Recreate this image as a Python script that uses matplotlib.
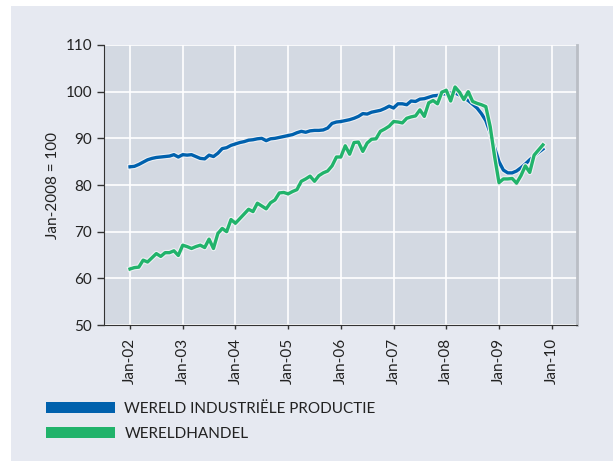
import numpy as np
import matplotlib
matplotlib.use("Agg")
import matplotlib.pyplot as plt
import matplotlib.patheffects as pe
from matplotlib.patches import Rectangle, Patch

plt.rcParams['font.family'] = ['Lato', 'DejaVu Sans']

# maandcijfers, jan-2002 t/m nov-2009 (jan-2008 = 100)
industrie = [
    83.9, 84.0, 84.4, 84.9, 85.4, 85.7, 85.9, 86.0, 86.1, 86.2, 86.5, 86.0,
    86.5, 86.4, 86.5, 86.1, 85.7, 85.6, 86.4, 86.1, 86.8, 87.8, 88.0, 88.5,
    88.8, 89.1, 89.3, 89.6, 89.7, 89.9, 90.0, 89.5, 89.9, 90.0, 90.2, 90.4,
    90.6, 90.8, 91.2, 91.5, 91.3, 91.6, 91.7, 91.7, 91.8, 92.2, 93.2, 93.5,
    93.6, 93.8, 94.0, 94.3, 94.7, 95.3, 95.2, 95.6, 95.8, 96.0, 96.4, 96.9,
    96.5, 97.4, 97.4, 97.2, 98.0, 97.9, 98.4, 98.5, 98.8, 99.1, 99.2, 99.4,
    99.6, 99.7, 99.7, 99.3, 98.7, 98.1, 97.3, 96.5, 95.3, 93.8, 91.2, 88.0,
    85.0, 83.2, 82.6, 82.6, 83.0, 83.7, 84.5, 85.4, 86.2, 87.0, 87.7,
]
handel = [
    62.0, 62.3, 62.4, 63.9, 63.5, 64.4, 65.3, 64.7, 65.5, 65.5, 65.9, 64.9,
    67.1, 66.8, 66.4, 66.8, 67.1, 66.6, 68.4, 66.4, 69.6, 70.7, 70.0, 72.6,
    71.8, 72.8, 73.8, 74.8, 74.3, 76.1, 75.5, 74.9, 76.2, 76.8, 78.3, 78.4,
    78.1, 78.6, 79.0, 80.8, 81.3, 81.9, 80.8, 82.0, 82.6, 83.0, 84.1, 86.0,
    86.0, 88.4, 86.6, 89.1, 89.2, 87.2, 89.0, 89.8, 89.9, 91.5, 92.0, 92.6,
    93.6, 93.5, 93.3, 94.3, 94.6, 94.8, 96.1, 94.7, 97.6, 98.1, 97.4, 99.9,
    100.3, 98.0, 101.0, 99.9, 98.3, 100.0, 97.9, 97.5, 97.2, 96.8, 92.5, 86.1,
    80.5, 81.3, 81.3, 81.4, 80.4, 82.0, 84.1, 82.7, 86.4, 87.5, 88.6,
]
jaren = [2002, 2003, 2004, 2005, 2006, 2007, 2008, 2009, 2010]
jaar_labels = ['Jan-02', 'Jan-03', 'Jan-04', 'Jan-05', 'Jan-06',
               'Jan-07', 'Jan-08', 'Jan-09', 'Jan-10']
namen = ['WERELD INDUSTRIËLE PRODUCTIE', 'WERELDHANDEL']
kleuren = ['#0061ad', '#21b36b']

t = 2002 + np.arange(len(industrie)) / 12

fig = plt.figure(figsize=(6.13, 4.61), dpi=100)
fig.patch.set_facecolor('white')
fig.add_artist(Rectangle((11 / 613, 0), 1, 1 - 6 / 461, transform=fig.transFigure,
                         facecolor='#e6e9f1', edgecolor='none', zorder=-10))

ax = fig.add_axes([104 / 613, 1 - 325 / 461, 473 / 613, 280 / 461])
ax.set_facecolor('#d3d9e2')

halo = [pe.Stroke(linewidth=4.0, foreground='#eef0f4'), pe.Normal()]
ax.plot(t, industrie, color=kleuren[0], lw=2.4, path_effects=halo, zorder=3)
ax.plot(t, handel, color=kleuren[1], lw=2.4, path_effects=halo, zorder=4)

ax.set_xlim(2001.507, 2010.48)
ax.set_ylim(50, 110)
ax.set_yticks(range(50, 111, 10))
ax.set_xticks(jaren)
ax.set_xticklabels(jaar_labels, rotation=90, fontsize=11, color='#222222')
ax.tick_params(axis='y', labelsize=11, labelcolor='#222222', length=5, width=1, color='#333333')
ax.tick_params(axis='x', length=3, width=1, color='#333333', pad=6)
ax.grid(True, color='white', lw=1.2)
ax.set_axisbelow(True)
ax.set_ylabel('Jan-2008 = 100', fontsize=11, color='#222222', labelpad=4)

ax.spines['top'].set_visible(False)
ax.spines['right'].set_color('#babec5')
ax.spines['right'].set_linewidth(2)
ax.spines['left'].set_color('#333333')
ax.spines['bottom'].set_color('#333333')

handles = [Patch(facecolor=c, edgecolor='none') for c in kleuren]
fig.legend(handles, namen, loc='upper left', bbox_to_anchor=(32 / 613, 1 - 388 / 461),
           frameon=False, fontsize=11, handlelength=4.5, handleheight=0.8,
           handletextpad=0.65, labelspacing=0.7, labelcolor='#222222')

fig.savefig('out.png', dpi=100)
